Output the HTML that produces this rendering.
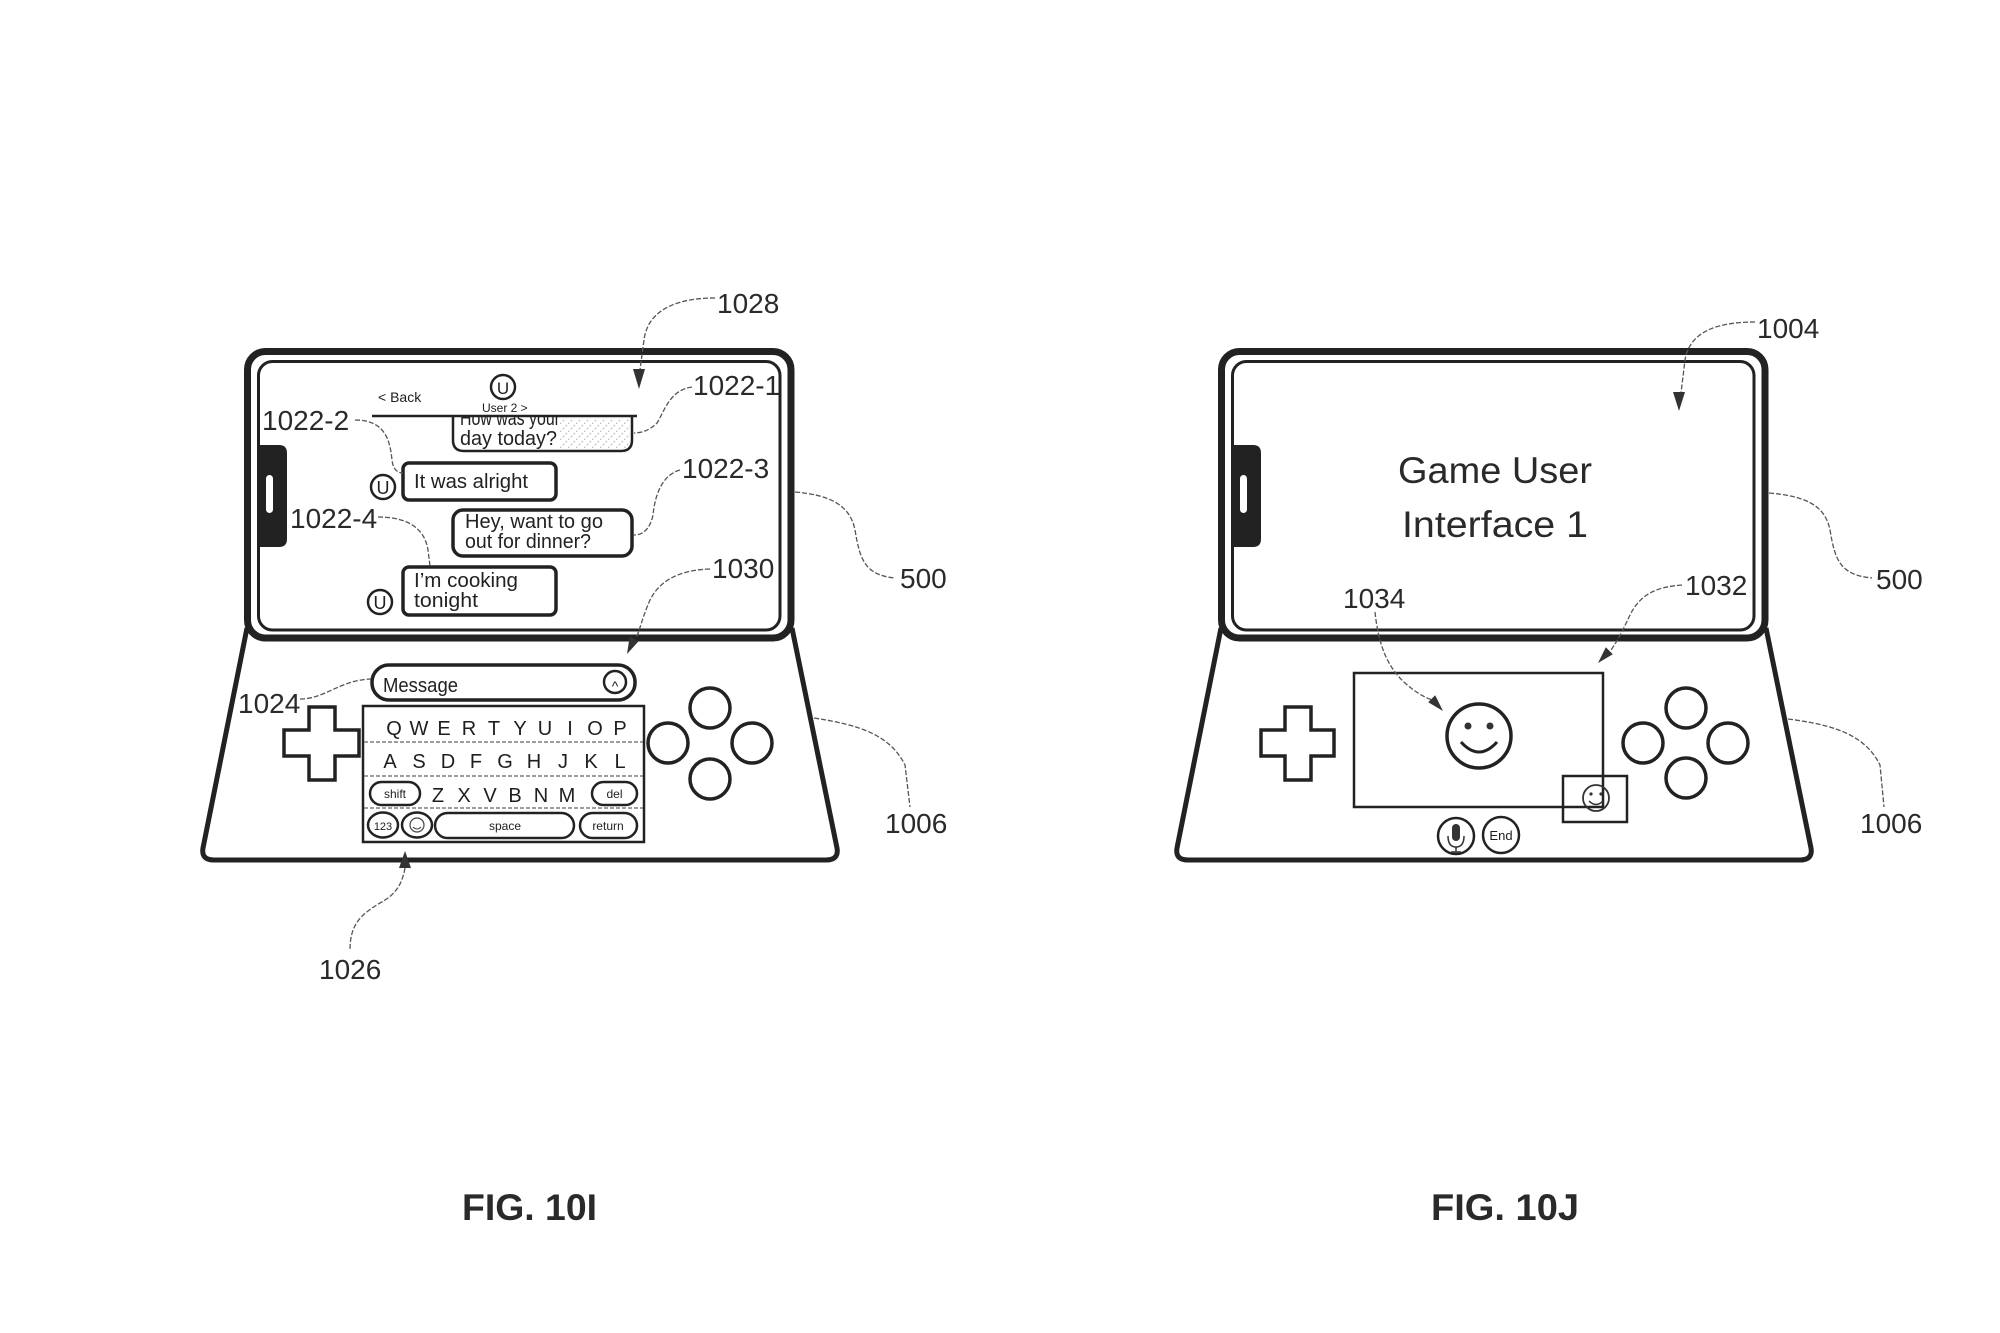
<!DOCTYPE html>
<html><head><meta charset="utf-8"><style>
html,body{margin:0;padding:0;background:#fff;}
svg{display:block;}
text{font-family:"Liberation Sans",Arial,sans-serif;fill:#1e1e1e;}
.lbl{font-size:28px;fill:#2a2a2a;}
.ui{font-size:20px;fill:#222;}
.key{font-size:20px;fill:#222;}
.sm{font-size:12px;fill:#222;}
.ld{fill:none;stroke:#555;stroke-width:1.3;stroke-dasharray:5 2;}
.thick{fill:none;stroke:#222;stroke-width:7;}
.thin{fill:none;stroke:#222;stroke-width:3;}
.base{fill:none;stroke:#222;stroke-width:5;stroke-linejoin:round;}
.o2{fill:none;stroke:#222;stroke-width:2.5;}
.o3{fill:none;stroke:#222;stroke-width:3.5;}
.sep{stroke:#666;stroke-width:1.2;stroke-dasharray:4 2;}
</style></head><body>
<svg width="2000" height="1333" viewBox="0 0 2000 1333" xmlns="http://www.w3.org/2000/svg">
<defs>
<pattern id="hatch" width="8" height="8" patternUnits="userSpaceOnUse">
<path d="M0 8 L8 0" stroke="#bbb" stroke-width="1" stroke-dasharray="2 2"/>
</pattern>
<clipPath id="clipTop"><rect x="440" y="417" width="200" height="40"/></clipPath>
</defs>

<!-- ================= FIG 10I ================= -->
<g id="figI">
<path class="base" d="M247 628 L203 848 Q201 860 214 860 L826 860 Q839 860 837 848 L792 628"/>
<rect class="thick" x="247.5" y="351.5" width="543.5" height="286.5" rx="18"/>
<rect class="thin" x="258.5" y="361.5" width="521.5" height="268.5" rx="14"/>
<path d="M258 445 L279 445 Q287 445 287 453 L287 539 Q287 547 279 547 L258 547 Z" fill="#222"/>
<rect x="266" y="475" width="7" height="38" rx="3.5" fill="#fff"/>

<text x="378" y="402" style="font-size:14px">&lt; Back</text>
<circle cx="503" cy="387" r="12" class="o2"/>
<text x="503" y="394" text-anchor="middle" style="font-size:17px">U</text>
<text x="482" y="412" style="font-size:12px">User 2 &gt;</text>
<line x1="372" y1="416" x2="637" y2="416" stroke="#222" stroke-width="2.5"/>

<path d="M453 417 L453 440 Q453 451 464 451 L621 451 Q632 451 632 440 L632 417" class="o2" fill="none"/>
<rect x="560" y="418" width="70" height="31" fill="url(#hatch)"/>
<g clip-path="url(#clipTop)"><text x="460" y="425" class="ui" textLength="100" lengthAdjust="spacingAndGlyphs">How was your</text></g>
<text x="460" y="445" class="ui" textLength="97" lengthAdjust="spacingAndGlyphs">day today?</text>

<circle cx="383" cy="487" r="12" class="o2"/>
<text x="383" y="494" text-anchor="middle" style="font-size:18px">U</text>
<rect x="403" y="463" width="153" height="37" rx="6" class="o3"/>
<text x="414" y="488" class="ui" textLength="114" lengthAdjust="spacingAndGlyphs">It was alright</text>

<rect x="453" y="510" width="179" height="46" rx="10" class="o3"/>
<text x="465" y="528" class="ui" textLength="138" lengthAdjust="spacingAndGlyphs">Hey, want to go</text>
<text x="465" y="548" class="ui" textLength="126" lengthAdjust="spacingAndGlyphs">out for dinner?</text>

<circle cx="380" cy="602" r="12" class="o2"/>
<text x="380" y="609" text-anchor="middle" style="font-size:18px">U</text>
<rect x="403" y="567" width="153" height="48" rx="6" class="o3"/>
<text x="414" y="587" class="ui" textLength="104" lengthAdjust="spacingAndGlyphs">I’m cooking</text>
<text x="414" y="607" class="ui" textLength="64" lengthAdjust="spacingAndGlyphs">tonight</text>

<rect x="372" y="665" width="263" height="35" rx="17" class="o3"/>
<text x="383" y="692" class="ui" textLength="75" lengthAdjust="spacingAndGlyphs">Message</text>
<circle cx="615" cy="682" r="11" class="o2"/>
<text x="615" y="691" text-anchor="middle" style="font-size:14px">^</text>

<path class="o3" d="M309 707 L335 707 L335 730 L359 730 L359 756 L335 756 L335 780 L309 780 L309 756 L284 756 L284 730 L309 730 Z"/>

<rect x="363" y="706" width="281" height="136" class="o2"/>
<line x1="364" y1="742" x2="643" y2="742" class="sep"/>
<line x1="364" y1="776" x2="643" y2="776" class="sep"/>
<line x1="364" y1="808" x2="643" y2="808" class="sep"/>
<g class="key" text-anchor="middle">
<text x="394" y="735">Q</text><text x="419" y="735">W</text><text x="444" y="735">E</text><text x="469" y="735">R</text><text x="494" y="735">T</text><text x="520" y="735">Y</text><text x="545" y="735">U</text><text x="570" y="735">I</text><text x="595" y="735">O</text><text x="620" y="735">P</text>
<text x="390" y="768">A</text><text x="419" y="768">S</text><text x="448" y="768">D</text><text x="476" y="768">F</text><text x="505" y="768">G</text><text x="534" y="768">H</text><text x="563" y="768">J</text><text x="591" y="768">K</text><text x="620" y="768">L</text>
<text x="438" y="802">Z</text><text x="464" y="802">X</text><text x="490" y="802">V</text><text x="515" y="802">B</text><text x="541" y="802">N</text><text x="567" y="802">M</text>
</g>
<rect x="370" y="782" width="50" height="23" rx="11.5" class="o2"/>
<text x="395" y="798" class="sm" text-anchor="middle">shift</text>
<rect x="592" y="782" width="45" height="23" rx="11.5" class="o2"/>
<text x="614.5" y="798" class="sm" text-anchor="middle">del</text>
<ellipse cx="383" cy="825" rx="15" ry="12.5" class="o2"/>
<text x="383" y="830" class="sm" text-anchor="middle" style="font-size:11px">123</text>
<ellipse cx="417" cy="825" rx="15" ry="12.5" class="o2"/>
<circle cx="417" cy="825" r="7" fill="none" stroke="#444" stroke-width="1.2"/>
<path d="M413 827 Q417 831 421 827" fill="none" stroke="#444" stroke-width="1"/>
<rect x="435" y="813" width="139" height="25" rx="12.5" class="o2"/>
<text x="505" y="830" class="sm" text-anchor="middle">space</text>
<rect x="580" y="813" width="57" height="25" rx="12.5" class="o2"/>
<text x="608" y="830" class="sm" text-anchor="middle">return</text>

<circle cx="710" cy="708" r="20" class="o3"/>
<circle cx="668" cy="743" r="20" class="o3"/>
<circle cx="752" cy="743" r="20" class="o3"/>
<circle cx="710" cy="779" r="20" class="o3"/>

<path class="ld" d="M715 298 C680 298 648 308 644 340 L640 370"/>
<path d="M639 389 L633 369 L645 369 Z" fill="#333"/>
<text class="lbl" x="717" y="313">1028</text>

<path class="ld" d="M692 387 C670 390 665 410 657 423 C650 430 642 433 634 433"/>
<text class="lbl" x="693" y="395">1022-1</text>

<path class="ld" d="M355 420 C385 420 390 440 392 460 C393 470 398 473 403 473"/>
<text class="lbl" x="262" y="430">1022-2</text>

<path class="ld" d="M680 470 C662 475 655 495 653 515 C650 530 642 535 634 535"/>
<text class="lbl" x="682" y="478">1022-3</text>

<path class="ld" d="M378 517 C410 517 425 530 428 550 L430 566"/>
<text class="lbl" x="290" y="528">1022-4</text>

<path class="ld" d="M710 569 C680 570 660 580 650 600 C642 618 640 630 636 638"/>
<path d="M627 654 L629.7 636.6 L638.7 641.1 Z" fill="#333"/>
<text class="lbl" x="712" y="578">1030</text>

<path class="ld" d="M795 492 C830 495 850 505 855 530 C860 560 865 575 895 578"/>
<text class="lbl" x="900" y="588">500</text>

<path class="ld" d="M300 699 C325 699 340 680 371 679"/>
<text class="lbl" x="238" y="713">1024</text>

<path class="ld" d="M814 718 C860 725 890 735 905 765 L910 807"/>
<text class="lbl" x="885" y="833">1006</text>

<path d="M405 851 L399 868 L411 868 Z" fill="#333"/>
<path class="ld" d="M405 868 C402 885 395 895 380 903 C360 915 350 925 350 950"/>
<text class="lbl" x="319" y="979">1026</text>

<text x="462" y="1220" style="font-size:37px;font-weight:bold;fill:#2a2a2a" textLength="135" lengthAdjust="spacingAndGlyphs">FIG. 10I</text>
</g>

<!-- ================= FIG 10J ================= -->
<g id="figJ">
<path class="base" d="M1221 628 L1177 848 Q1175 860 1188 860 L1800 860 Q1813 860 1811 848 L1766 628"/>
<rect class="thick" x="1221.5" y="351.5" width="543.5" height="286.5" rx="18"/>
<rect class="thin" x="1232.5" y="361.5" width="521.5" height="268.5" rx="14"/>
<path d="M1232 445 L1253 445 Q1261 445 1261 453 L1261 539 Q1261 547 1253 547 L1232 547 Z" fill="#222"/>
<rect x="1240" y="475" width="7" height="38" rx="3.5" fill="#fff"/>

<text x="1398" y="483" style="font-size:37px;fill:#2a2a2a" textLength="194" lengthAdjust="spacingAndGlyphs">Game User</text>
<text x="1402" y="537" style="font-size:37px;fill:#2a2a2a" textLength="186" lengthAdjust="spacingAndGlyphs">Interface 1</text>

<path class="o3" d="M1285 707 L1311 707 L1311 730 L1334 730 L1334 756 L1311 756 L1311 780 L1285 780 L1285 756 L1261 756 L1261 730 L1285 730 Z"/>

<rect x="1354" y="673" width="249" height="134" class="o2"/>
<circle cx="1479" cy="736" r="32" class="o3"/>
<circle cx="1468" cy="726" r="3.5" fill="#333"/>
<circle cx="1490" cy="726" r="3.5" fill="#333"/>
<path d="M1461 742 Q1479 762 1497 742" fill="none" stroke="#222" stroke-width="3"/>
<rect x="1563" y="776" width="64" height="46" fill="#fff" class="o2"/>
<circle cx="1596" cy="798" r="13" fill="none" stroke="#333" stroke-width="1.8"/>
<circle cx="1591" cy="794" r="1.6" fill="#333"/>
<circle cx="1601" cy="794" r="1.6" fill="#333"/>
<path d="M1589 801 Q1596 808 1603 801" fill="none" stroke="#333" stroke-width="1.5"/>

<circle cx="1456" cy="836" r="18" class="o2"/>
<rect x="1452" y="824" width="8" height="17" rx="4" fill="#333"/>
<path d="M1448 836 Q1448 847 1456 847 Q1464 847 1464 836" fill="none" stroke="#333" stroke-width="1.5"/>
<line x1="1456" y1="847" x2="1456" y2="852" stroke="#333" stroke-width="1.5"/>
<line x1="1451" y1="852" x2="1461" y2="852" stroke="#333" stroke-width="1.5"/>
<circle cx="1501" cy="835" r="18" class="o2"/>
<text x="1501" y="840" text-anchor="middle" style="font-size:13px">End</text>

<circle cx="1686" cy="708" r="20" class="o3"/>
<circle cx="1643" cy="743" r="20" class="o3"/>
<circle cx="1728" cy="743" r="20" class="o3"/>
<circle cx="1686" cy="778" r="20" class="o3"/>

<path class="ld" d="M1755 322 C1720 322 1690 330 1685 360 L1681 393"/>
<path d="M1679 411 L1673 392 L1685 392 Z" fill="#333"/>
<text class="lbl" x="1757" y="338">1004</text>

<path class="ld" d="M1769 493 C1805 496 1825 505 1830 530 C1835 560 1840 575 1872 578"/>
<text class="lbl" x="1876" y="589">500</text>

<path class="ld" d="M1682 585 C1655 587 1640 595 1630 615 C1622 632 1618 640 1611 650"/>
<path d="M1598 663 L1605.8 647.2 L1612.8 654.2 Z" fill="#333"/>
<text class="lbl" x="1685" y="595">1032</text>

<path class="ld" d="M1375 612 C1378 640 1385 665 1405 683 C1415 692 1424 697 1432 700"/>
<path d="M1443 711 L1428.2 702.2 L1435.2 695.2 Z" fill="#333"/>
<text class="lbl" x="1343" y="608">1034</text>

<path class="ld" d="M1788 719 C1835 725 1865 735 1880 765 L1884 807"/>
<text class="lbl" x="1860" y="833">1006</text>

<text x="1431" y="1220" style="font-size:37px;font-weight:bold;fill:#2a2a2a" textLength="148" lengthAdjust="spacingAndGlyphs">FIG. 10J</text>
</g>
</svg>
</body></html>
